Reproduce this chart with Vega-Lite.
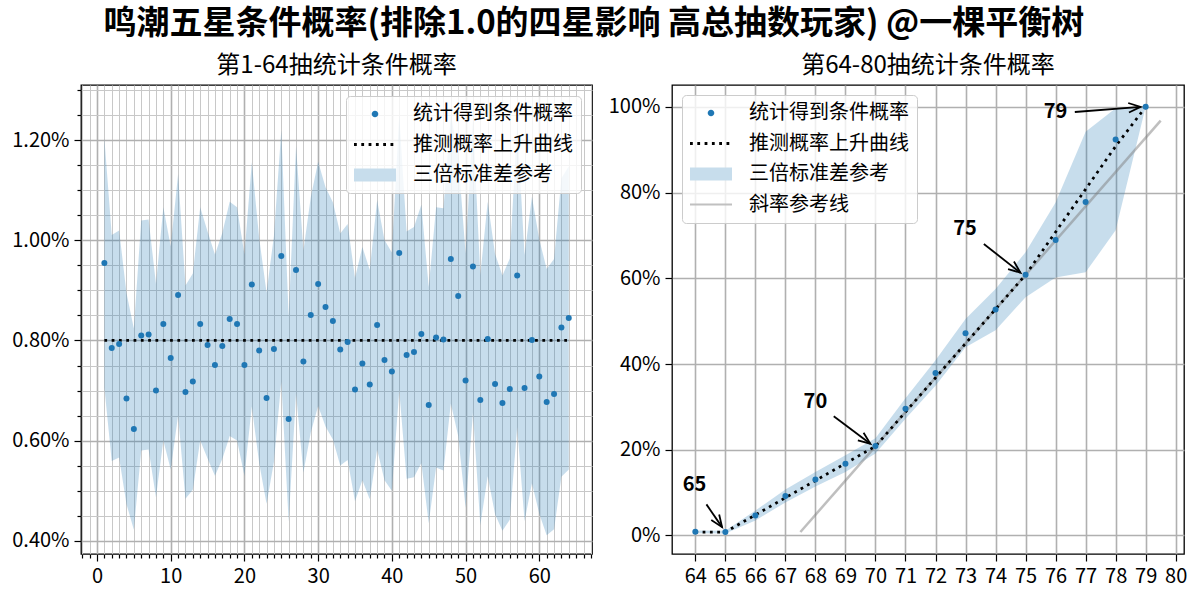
{
  "$schema": "https://vega.github.io/schema/vega-lite/v6.json",
  "description": "鸣潮五星条件概率",
  "background": "white",
  "padding": {"left": 0, "top": 8, "right": 8, "bottom": 0},
  "title": {
    "text": "鸣潮五星条件概率(排除1.0的四星影响 高总抽数玩家) @一棵平衡树",
    "font": "Noto Sans CJK SC",
    "fontSize": 33,
    "fontWeight": "bold",
    "color": "black",
    "anchor": "middle",
    "offset": 12
  },
  "datasets": {
    "e_band": [
      {"x": 1, "y": 0.00706, "y2": 0.01204}, {"x": 2, "y": 0.00559, "y2": 0.01011},
      {"x": 3, "y": 0.00566, "y2": 0.01020}, {"x": 4, "y": 0.00473, "y2": 0.00895},
      {"x": 5, "y": 0.00422, "y2": 0.00824}, {"x": 6, "y": 0.00580, "y2": 0.01040},
      {"x": 7, "y": 0.00582, "y2": 0.01042}, {"x": 8, "y": 0.00487, "y2": 0.00913},
      {"x": 9, "y": 0.00600, "y2": 0.01066}, {"x": 10, "y": 0.00542, "y2": 0.00988},
      {"x": 11, "y": 0.00650, "y2": 0.01132}, {"x": 12, "y": 0.00484, "y2": 0.00910},
      {"x": 13, "y": 0.00502, "y2": 0.00934}, {"x": 14, "y": 0.00600, "y2": 0.01066},
      {"x": 15, "y": 0.00564, "y2": 0.01018}, {"x": 16, "y": 0.00530, "y2": 0.00972},
      {"x": 17, "y": 0.00563, "y2": 0.01015}, {"x": 18, "y": 0.00609, "y2": 0.01077},
      {"x": 19, "y": 0.00600, "y2": 0.01066}, {"x": 20, "y": 0.00530, "y2": 0.00972},
      {"x": 21, "y": 0.00668, "y2": 0.01156}, {"x": 22, "y": 0.00555, "y2": 0.01005},
      {"x": 23, "y": 0.00474, "y2": 0.00896}, {"x": 24, "y": 0.00557, "y2": 0.01009},
      {"x": 25, "y": 0.00718, "y2": 0.01220}, {"x": 26, "y": 0.00438, "y2": 0.00848},
      {"x": 27, "y": 0.00694, "y2": 0.01188}, {"x": 28, "y": 0.00536, "y2": 0.00980},
      {"x": 29, "y": 0.00616, "y2": 0.01086}, {"x": 30, "y": 0.00669, "y2": 0.01157},
      {"x": 31, "y": 0.00628, "y2": 0.01106}, {"x": 32, "y": 0.00602, "y2": 0.01076},
      {"x": 33, "y": 0.00550, "y2": 0.01014}, {"x": 34, "y": 0.00561, "y2": 0.01033},
      {"x": 35, "y": 0.00479, "y2": 0.00925}, {"x": 36, "y": 0.00521, "y2": 0.00987},
      {"x": 37, "y": 0.00483, "y2": 0.00941}, {"x": 38, "y": 0.00582, "y2": 0.01080},
      {"x": 39, "y": 0.00521, "y2": 0.01001}, {"x": 40, "y": 0.00500, "y2": 0.00976},
      {"x": 41, "y": 0.00700, "y2": 0.01250}, {"x": 42, "y": 0.00524, "y2": 0.01018},
      {"x": 43, "y": 0.00527, "y2": 0.01027}, {"x": 44, "y": 0.00555, "y2": 0.01071},
      {"x": 45, "y": 0.00435, "y2": 0.00907}, {"x": 46, "y": 0.00546, "y2": 0.01066},
      {"x": 47, "y": 0.00540, "y2": 0.01064}, {"x": 48, "y": 0.00674, "y2": 0.01252},
      {"x": 49, "y": 0.00609, "y2": 0.01169}, {"x": 50, "y": 0.00466, "y2": 0.00974},
      {"x": 51, "y": 0.00655, "y2": 0.01241}, {"x": 52, "y": 0.00431, "y2": 0.00931},
      {"x": 53, "y": 0.00529, "y2": 0.01077}, {"x": 54, "y": 0.00453, "y2": 0.00973},
      {"x": 55, "y": 0.00420, "y2": 0.00930}, {"x": 56, "y": 0.00442, "y2": 0.00964},
      {"x": 57, "y": 0.00627, "y2": 0.01233}, {"x": 58, "y": 0.00439, "y2": 0.00971},
      {"x": 59, "y": 0.00515, "y2": 0.01087}, {"x": 60, "y": 0.00454, "y2": 0.01002},
      {"x": 61, "y": 0.00411, "y2": 0.00943}, {"x": 62, "y": 0.00423, "y2": 0.00963},
      {"x": 63, "y": 0.00528, "y2": 0.01124}, {"x": 64, "y": 0.00542, "y2": 0.01148}
    ],
    "e_pts": [
      {"x": 1, "y": 0.00955}, {"x": 2, "y": 0.00785}, {"x": 3, "y": 0.00793}, {"x": 4, "y": 0.00684},
      {"x": 5, "y": 0.00623}, {"x": 6, "y": 0.00810}, {"x": 7, "y": 0.00812}, {"x": 8, "y": 0.00700},
      {"x": 9, "y": 0.00833}, {"x": 10, "y": 0.00765}, {"x": 11, "y": 0.00891}, {"x": 12, "y": 0.00697},
      {"x": 13, "y": 0.00718}, {"x": 14, "y": 0.00833}, {"x": 15, "y": 0.00791}, {"x": 16, "y": 0.00751},
      {"x": 17, "y": 0.00789}, {"x": 18, "y": 0.00843}, {"x": 19, "y": 0.00833}, {"x": 20, "y": 0.00751},
      {"x": 21, "y": 0.00912}, {"x": 22, "y": 0.00780}, {"x": 23, "y": 0.00685}, {"x": 24, "y": 0.00783},
      {"x": 25, "y": 0.00969}, {"x": 26, "y": 0.00643}, {"x": 27, "y": 0.00941}, {"x": 28, "y": 0.00758},
      {"x": 29, "y": 0.00851}, {"x": 30, "y": 0.00913}, {"x": 31, "y": 0.00867}, {"x": 32, "y": 0.00839},
      {"x": 33, "y": 0.00782}, {"x": 34, "y": 0.00797}, {"x": 35, "y": 0.00702}, {"x": 36, "y": 0.00754},
      {"x": 37, "y": 0.00712}, {"x": 38, "y": 0.00831}, {"x": 39, "y": 0.00761}, {"x": 40, "y": 0.00738},
      {"x": 41, "y": 0.00975}, {"x": 42, "y": 0.00771}, {"x": 43, "y": 0.00777}, {"x": 44, "y": 0.00813},
      {"x": 45, "y": 0.00671}, {"x": 46, "y": 0.00806}, {"x": 47, "y": 0.00802}, {"x": 48, "y": 0.00963},
      {"x": 49, "y": 0.00889}, {"x": 50, "y": 0.00720}, {"x": 51, "y": 0.00948}, {"x": 52, "y": 0.00681},
      {"x": 53, "y": 0.00803}, {"x": 54, "y": 0.00713}, {"x": 55, "y": 0.00675}, {"x": 56, "y": 0.00703},
      {"x": 57, "y": 0.00930}, {"x": 58, "y": 0.00705}, {"x": 59, "y": 0.00801}, {"x": 60, "y": 0.00728},
      {"x": 61, "y": 0.00677}, {"x": 62, "y": 0.00693}, {"x": 63, "y": 0.00826}, {"x": 64, "y": 0.00845}
    ],
    "e_fit": [
      {"x": 1, "y": 0.008},
      {"x": 64, "y": 0.008}
    ],
    "l_band": [
      {"x": 64, "y": 0.0054, "y2": 0.0115}, {"x": 65, "y": 0.0048, "y2": 0.0108},
      {"x": 66, "y": 0.035, "y2": 0.058}, {"x": 67, "y": 0.077, "y2": 0.107},
      {"x": 68, "y": 0.114, "y2": 0.148}, {"x": 69, "y": 0.148, "y2": 0.187},
      {"x": 70, "y": 0.191, "y2": 0.227}, {"x": 71, "y": 0.272, "y2": 0.320},
      {"x": 72, "y": 0.349, "y2": 0.409}, {"x": 73, "y": 0.439, "y2": 0.505},
      {"x": 74, "y": 0.479, "y2": 0.575}, {"x": 75, "y": 0.556, "y2": 0.661},
      {"x": 76, "y": 0.602, "y2": 0.777}, {"x": 77, "y": 0.614, "y2": 0.942},
      {"x": 78, "y": 0.712, "y2": 0.997}, {"x": 79, "y": 1.0, "y2": 1.0}
    ],
    "l_pts": [
      {"x": 64, "y": 0.00845}, {"x": 65, "y": 0.0078}, {"x": 66, "y": 0.0467}, {"x": 67, "y": 0.0919},
      {"x": 68, "y": 0.1307}, {"x": 69, "y": 0.1674}, {"x": 70, "y": 0.2086}, {"x": 71, "y": 0.2957},
      {"x": 72, "y": 0.379}, {"x": 73, "y": 0.472}, {"x": 74, "y": 0.527}, {"x": 75, "y": 0.6085},
      {"x": 76, "y": 0.6895}, {"x": 77, "y": 0.778}, {"x": 78, "y": 0.924}, {"x": 79, "y": 1.0}
    ],
    "l_fit": [
      {"x": 64, "y": 0.008}, {"x": 65, "y": 0.008}, {"x": 66, "y": 0.048}, {"x": 67, "y": 0.088},
      {"x": 68, "y": 0.128}, {"x": 69, "y": 0.168}, {"x": 70, "y": 0.208}, {"x": 71, "y": 0.288},
      {"x": 72, "y": 0.368}, {"x": 73, "y": 0.448}, {"x": 74, "y": 0.528}, {"x": 75, "y": 0.608},
      {"x": 76, "y": 0.708}, {"x": 77, "y": 0.808}, {"x": 78, "y": 0.908}, {"x": 79, "y": 1.0}
    ],
    "l_slope": [
      {"x": 67.5, "y": 0.008},
      {"x": 79.5, "y": 0.968}
    ],
    "l_arrows": [
      {"label": "65", "x": 64.37, "y": 0.0725, "x2": 64.89, "y2": 0.0194},
      {"label": "70", "x": 68.61, "y": 0.278, "x2": 69.83, "y2": 0.214},
      {"label": "75", "x": 73.61, "y": 0.68, "x2": 74.83, "y2": 0.613},
      {"label": "79", "x": 76.64, "y": 0.988, "x2": 78.83, "y2": 1.0}
    ],
    "l_heads": [
      {"label": "65", "x": 64.89, "y": 0.0194},
      {"label": "70", "x": 69.83, "y": 0.214},
      {"label": "75", "x": 74.83, "y": 0.613},
      {"label": "79", "x": 78.83, "y": 1.0}
    ],
    "l_text": [
      {"label": "65", "x": 63.97, "y": 0.117},
      {"label": "70", "x": 68.0, "y": 0.312},
      {"label": "75", "x": 72.98, "y": 0.715},
      {"label": "79", "x": 76.0, "y": 0.988}
    ],
    "keys3": [
      {"series": "统计得到条件概率"},
      {"series": "推测概率上升曲线"},
      {"series": "三倍标准差参考"}
    ],
    "keys4": [
      {"series": "统计得到条件概率"},
      {"series": "推测概率上升曲线"},
      {"series": "三倍标准差参考"},
      {"series": "斜率参考线"}
    ]
  },
  "spacing": 14,
  "resolve": {"scale": {"color": "independent", "shape": "independent"}},
  "hconcat": [
    {
      "width": 511,
      "height": 469,
      "title": {"text": "第1-64抽统计条件概率", "fontSize": 24, "fontWeight": "normal", "anchor": "middle", "offset": 2},
      "encoding": {
        "x": {
          "field": "x", "type": "quantitative", "title": null,
          "scale": {"domain": [-2.17, 67.15], "nice": false, "zero": false},
          "axis": {
            "values": [-2, -1, 0, 1, 2, 3, 4, 5, 6, 7, 8, 9, 10, 11, 12, 13, 14, 15, 16, 17, 18, 19, 20, 21, 22, 23, 24, 25, 26, 27, 28, 29, 30, 31, 32, 33, 34, 35, 36, 37, 38, 39, 40, 41, 42, 43, 44, 45, 46, 47, 48, 49, 50, 51, 52, 53, 54, 55, 56, 57, 58, 59, 60, 61, 62, 63, 64, 65, 66, 67],
            "labelExpr": "datum.value % 10 === 0 ? datum.label : ''",
            "labelOverlap": false,
            "labelFlush": false,
            "tickSize": {"condition": {"test": "datum.value % 10 === 0", "value": 7}, "value": 4},
            "gridColor": {"condition": {"test": "datum.value % 10 === 0", "value": "#b0b0b0"}, "value": "#c8c8c8"},
            "gridWidth": {"condition": {"test": "datum.value % 10 === 0", "value": 1.6}, "value": 1}
          }
        },
        "y": {
          "field": "y", "type": "quantitative", "title": null,
          "scale": {"domain": [0.003734, 0.013105], "nice": false, "zero": false},
          "axis": {
            "values": [0.004, 0.0045, 0.005, 0.0055, 0.006, 0.0065, 0.007, 0.0075, 0.008, 0.0085, 0.009, 0.0095, 0.01, 0.0105, 0.011, 0.0115, 0.012, 0.0125, 0.013],
            "labelExpr": "round(datum.value * 10000) % 20 === 0 ? format(datum.value, '.2%') : ''",
            "labelOverlap": false,
            "labelFlush": false,
            "minExtent": 80,
            "maxExtent": 80,
            "tickSize": {"condition": {"test": "round(datum.value * 10000) % 20 === 0", "value": 7}, "value": 4},
            "gridColor": {"condition": {"test": "round(datum.value * 10000) % 20 === 0", "value": "#b0b0b0"}, "value": "#c8c8c8"},
            "gridWidth": {"condition": {"test": "round(datum.value * 10000) % 20 === 0", "value": 1.6}, "value": 1}
          }
        }
      },
      "layer": [
        {
          "data": {"name": "e_band"},
          "mark": {"type": "area", "color": "#1f77b4", "opacity": 0.25},
          "encoding": {"y2": {"field": "y2"}}
        },
        {
          "data": {"name": "e_fit"},
          "mark": {"type": "line", "color": "black", "strokeWidth": 2.75, "strokeDash": [2.75, 4.55], "strokeCap": "butt"},
          "encoding": {}
        },
        {
          "data": {"name": "e_pts"},
          "mark": {"type": "point", "filled": true, "color": "#1f77b4", "opacity": 1, "size": 36}
        },
        {
          "data": {"name": "keys3"},
          "mark": {"type": "point", "filled": true, "opacity": 1},
          "encoding": {
            "color": {
              "field": "series", "type": "nominal",
              "scale": {"domain": ["统计得到条件概率", "推测概率上升曲线", "三倍标准差参考"], "range": ["#1f77b4", "#000000", "#c7ddec"]},
              "legend": {
                "title": null, "orient": "top-right", "offset": 11,
                "symbolOpacity": 1,
                "encode": {"symbols": {"update": {"opacity": {"value": 1}, "fillOpacity": {"value": 1}}}}
              }
            },
            "shape": {
              "field": "series", "type": "nominal",
              "scale": {
                "domain": ["统计得到条件概率", "推测概率上升曲线", "三倍标准差参考"],
                "range": [
                  "M0.77,0A0.33,0.33 0 1,0 1.43,0A0.33,0.33 0 1,0 0.77,0Z",
                  "M-1,-0.14h0.28v0.28h-0.28ZM-0.27,-0.14h0.28v0.28h-0.28ZM0.46,-0.14h0.28v0.28h-0.28ZM1.19,-0.14h0.28v0.28h-0.28ZM1.92,-0.14h0.28v0.28h-0.28ZM2.65,-0.14h0.28v0.28h-0.28Z",
                  "M-1,-0.65H3.2V0.65H-1Z"
                ]
              },
              "legend": {"title": null, "orient": "top-right", "offset": 11}
            }
          }
        }
      ]
    },
    {
      "width": 512,
      "height": 469,
      "title": {"text": "第64-80抽统计条件概率", "fontSize": 24, "fontWeight": "normal", "anchor": "middle", "offset": 7},
      "encoding": {
        "x": {
          "field": "x", "type": "quantitative", "title": null,
          "scale": {"domain": [63.223, 80.277], "nice": false, "zero": false},
          "axis": {
            "values": [64, 65, 66, 67, 68, 69, 70, 71, 72, 73, 74, 75, 76, 77, 78, 79, 80],
            "format": "d",
            "labelOverlap": false,
            "labelFlush": false,
            "tickSize": 7,
            "gridColor": "#b0b0b0",
            "gridWidth": 1.6
          }
        },
        "y": {
          "field": "y", "type": "quantitative", "title": null,
          "scale": {"domain": [-0.0433, 1.051], "nice": false, "zero": false},
          "axis": {
            "values": [0, 0.2, 0.4, 0.6, 0.8, 1.0],
            "format": ".0%",
            "labelOverlap": false,
            "labelFlush": false,
            "minExtent": 61,
            "maxExtent": 61,
            "tickSize": 7,
            "gridColor": "#b0b0b0",
            "gridWidth": 1.6
          }
        }
      },
      "layer": [
        {
          "data": {"name": "l_band"},
          "mark": {"type": "area", "color": "#1f77b4", "opacity": 0.25},
          "encoding": {"y2": {"field": "y2"}}
        },
        {
          "data": {"name": "l_slope"},
          "mark": {"type": "line", "color": "#808080", "opacity": 0.5, "strokeWidth": 2.5},
          "encoding": {}
        },
        {
          "data": {"name": "l_fit"},
          "mark": {"type": "line", "color": "black", "strokeWidth": 2.75, "strokeDash": [2.75, 4.55], "strokeCap": "butt"},
          "encoding": {}
        },
        {
          "data": {"name": "l_pts"},
          "mark": {"type": "point", "filled": true, "color": "#1f77b4", "opacity": 1, "size": 36}
        },
        {
          "data": {"name": "l_arrows"},
          "mark": {"type": "rule", "color": "black", "strokeWidth": 1.8},
          "encoding": {"x2": {"field": "x2"}, "y2": {"field": "y2"}}
        },
        {
          "data": {"name": "l_heads"},
          "transform": [{"filter": "datum.label === '65'"}],
          "mark": {"type": "point", "shape": "M-1,-0.4L0,0L-1,0.4", "filled": false, "stroke": "black", "strokeWidth": 1.8, "opacity": 1, "size": 576, "angle": 55.3}
        },
        {
          "data": {"name": "l_heads"},
          "transform": [{"filter": "datum.label === '70'"}],
          "mark": {"type": "point", "shape": "M-1,-0.4L0,0L-1,0.4", "filled": false, "stroke": "black", "strokeWidth": 1.8, "opacity": 1, "size": 576, "angle": 36.6}
        },
        {
          "data": {"name": "l_heads"},
          "transform": [{"filter": "datum.label === '75'"}],
          "mark": {"type": "point", "shape": "M-1,-0.4L0,0L-1,0.4", "filled": false, "stroke": "black", "strokeWidth": 1.8, "opacity": 1, "size": 576, "angle": 38.0}
        },
        {
          "data": {"name": "l_heads"},
          "transform": [{"filter": "datum.label === '79'"}],
          "mark": {"type": "point", "shape": "M-1,-0.4L0,0L-1,0.4", "filled": false, "stroke": "black", "strokeWidth": 1.8, "opacity": 1, "size": 576, "angle": -4.4}
        },
        {
          "data": {"name": "l_text"},
          "mark": {"type": "text", "font": "Noto Sans CJK SC", "fontSize": 20, "fontWeight": "bold", "color": "black", "align": "center", "baseline": "middle"},
          "encoding": {"text": {"field": "label"}}
        },
        {
          "data": {"name": "keys4"},
          "mark": {"type": "point", "filled": true, "opacity": 1},
          "encoding": {
            "color": {
              "field": "series", "type": "nominal",
              "scale": {"domain": ["统计得到条件概率", "推测概率上升曲线", "三倍标准差参考", "斜率参考线"], "range": ["#1f77b4", "#000000", "#c7ddec", "#c0c0c0"]},
              "legend": {
                "title": null, "orient": "top-left", "offset": 10,
                "symbolOpacity": 1,
                "encode": {"symbols": {"update": {"opacity": {"value": 1}, "fillOpacity": {"value": 1}}}}
              }
            },
            "shape": {
              "field": "series", "type": "nominal",
              "scale": {
                "domain": ["统计得到条件概率", "推测概率上升曲线", "三倍标准差参考", "斜率参考线"],
                "range": [
                  "M0.77,0A0.33,0.33 0 1,0 1.43,0A0.33,0.33 0 1,0 0.77,0Z",
                  "M-1,-0.14h0.28v0.28h-0.28ZM-0.27,-0.14h0.28v0.28h-0.28ZM0.46,-0.14h0.28v0.28h-0.28ZM1.19,-0.14h0.28v0.28h-0.28ZM1.92,-0.14h0.28v0.28h-0.28ZM2.65,-0.14h0.28v0.28h-0.28Z",
                  "M-1,-0.65H3.2V0.65H-1Z",
                  "M-1,-0.11H3.2V0.11H-1Z"
                ]
              },
              "legend": {"title": null, "orient": "top-left", "offset": 10}
            }
          }
        }
      ]
    }
  ],
  "config": {
    "font": "Noto Sans CJK SC",
    "view": {"stroke": "black", "strokeWidth": 1.3},
    "title": {"font": "Noto Sans CJK SC", "color": "black"},
    "axis": {
      "labelFont": "Noto Sans CJK SC",
      "labelFontSize": 20,
      "labelColor": "black",
      "labelPadding": 5,
      "tickColor": "black",
      "tickWidth": 1.2,
      "domain": false,
      "grid": true
    },
    "legend": {
      "labelFont": "Noto Sans CJK SC",
      "labelFontSize": 20,
      "labelColor": "black",
      "labelLimit": 400,
      "labelOffset": 39,
      "symbolSize": 400,
      "symbolStrokeWidth": 0,
      "rowPadding": 10.5,
      "padding": 8,
      "fillColor": "rgba(255,255,255,0.8)",
      "strokeColor": "#cccccc",
      "cornerRadius": 4
    }
  }
}
